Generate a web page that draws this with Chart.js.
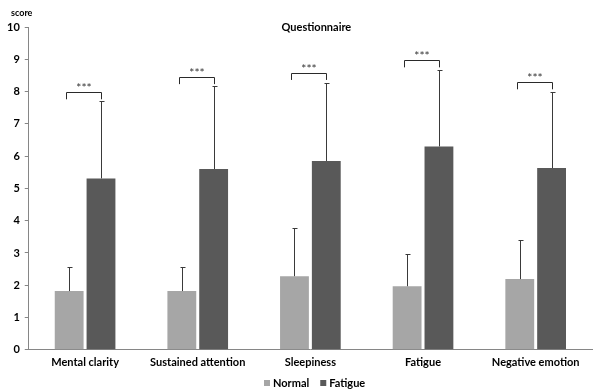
<!doctype html>
<html lang="en">
<head>
<meta charset="utf-8">
<title>Questionnaire</title>
<script src="https://cdn.jsdelivr.net/npm/chart.js@4/dist/chart.umd.min.js"></script>
<style>
  html, body { margin: 0; padding: 0; background: #fff; }
  #wrap { width: 600px; height: 390px; }
</style>
</head>
<body>
<div id="wrap"><canvas id="questChart"></canvas></div>
<script>
// data
var categories = ["Mental clarity", "Sustained attention", "Sleepiness", "Fatigue", "Negative emotion"];
var normalMean = [1.82, 1.82, 2.28, 1.97, 2.19];
var normalTop  = [2.58, 2.58, 3.78, 2.98, 3.39];   // mean + SD
var fatigueMean = [5.31, 5.60, 5.85, 6.30, 5.63];
var fatigueTop  = [7.71, 8.17, 8.26, 8.67, 7.99];
var bracketLevel = [7.98, 8.45, 8.58, 8.97, 8.29];
var sigLabel = ["***", "***", "***", "***", "***"];
var yTicks = [0, 1, 2, 3, 4, 5, 6, 7, 8, 9, 10];

var FONT = "Lato, 'Liberation Sans', sans-serif";

// error bars, significance brackets, title, axis caption and legend
var extras = {
  id: "extras",
  afterDatasetsDraw: function(chart) {
    var ctx = chart.ctx;
    var y = chart.scales.y;
    var tops = [normalTop, fatigueTop];
    var means = [normalMean, fatigueMean];
    ctx.save();
    ctx.lineWidth = 1;
    ctx.strokeStyle = "#3a3a3a";
    for (var d = 0; d < 2; d++) {
      var meta = chart.getDatasetMeta(d);
      meta.data.forEach(function(bar, i) {
        var x = Math.round(bar.x) + 0.5;
        var y0 = y.getPixelForValue(means[d][i]);
        var y1 = Math.round(y.getPixelForValue(tops[d][i])) + 0.5;
        ctx.beginPath();
        ctx.moveTo(x, y0);
        ctx.lineTo(x, y1);
        ctx.moveTo(x - 2, y1);
        ctx.lineTo(x + 3, y1);
        ctx.stroke();
      });
    }
    // brackets
    var m0 = chart.getDatasetMeta(0), m1 = chart.getDatasetMeta(1);
    ctx.strokeStyle = "#2a2a2a";
    ctx.fillStyle = "#333";
    ctx.font = "12px " + FONT;
    ctx.textAlign = "center";
    ctx.textBaseline = "alphabetic";
    categories.forEach(function(c, i) {
      var xa = Math.round(m0.data[i].x) - 2.5;
      var xb = Math.round(m1.data[i].x) + 0.5;
      var yb = Math.round(y.getPixelForValue(bracketLevel[i])) + 0.5;
      var leg = y.getPixelForValue(bracketLevel[i] - 0.22);
      ctx.beginPath();
      ctx.moveTo(xa, leg);
      ctx.lineTo(xa, yb);
      ctx.lineTo(xb, yb);
      ctx.lineTo(xb, leg);
      ctx.stroke();
      ctx.fillText(sigLabel[i], (xa + xb) / 2, yb - 1);
    });
    // title and y caption
    var area = chart.chartArea;
    ctx.fillStyle = "#000";
    ctx.font = "bold 11px " + FONT;
    ctx.fillText("Questionnaire", (area.left + area.right) / 2 + 6, area.top + 4);
    ctx.font = "bold 9px " + FONT;
    ctx.textAlign = "left";
    ctx.fillText("score", 11, 16);
    // legend
    ctx.font = "bold 11px " + FONT;
    ctx.textBaseline = "middle";
    var lx = 264, ly = 383;
    chart.data.datasets.forEach(function(ds) {
      ctx.fillStyle = ds.backgroundColor;
      ctx.fillRect(lx, ly - 3, 6, 6);
      ctx.fillStyle = "#000";
      ctx.fillText(ds.label, lx + 9, ly);
      lx += 9 + ctx.measureText(ds.label).width + 11;
    });
    ctx.restore();
  }
};

var ctxQ = document.getElementById("questChart").getContext("2d");
var questChart = new Chart(ctxQ, {
  type: "bar",
  data: {
    labels: categories,
    datasets: [
      { label: "Normal", data: normalMean, backgroundColor: "#a6a6a6" },
      { label: "Fatigue", data: fatigueMean, backgroundColor: "#595959" }
    ]
  },
  options: {
    responsive: true,
    maintainAspectRatio: false,
    animation: false,
    layout: { padding: { top: 27, right: 8, left: 2, bottom: 15 } },
    categoryPercentage: 0.565,
    barPercentage: 0.906,
    plugins: {
      title: { display: false },
      tooltip: { enabled: false },
      legend: { display: false }
    },
    scales: {
      x: {
        grid: { display: false, drawTicks: false },
        border: { color: "#868686" },
        ticks: { color: "#000", padding: 6, font: { family: FONT, size: 11, weight: "bold" } }
      },
      y: {
        min: 0, max: 10,
        afterBuildTicks: function(axis) { axis.ticks = yTicks.map(function(v) { return { value: v }; }); },
        grid: { display: true, drawOnChartArea: false, drawTicks: true, tickLength: 4, color: "#868686" },
        border: { color: "#868686" },
        ticks: { color: "#000", padding: 5, font: { family: FONT, size: 11, weight: "bold" } }
      }
    }
  },
  plugins: [extras]
});
</script>
</body>
</html>
